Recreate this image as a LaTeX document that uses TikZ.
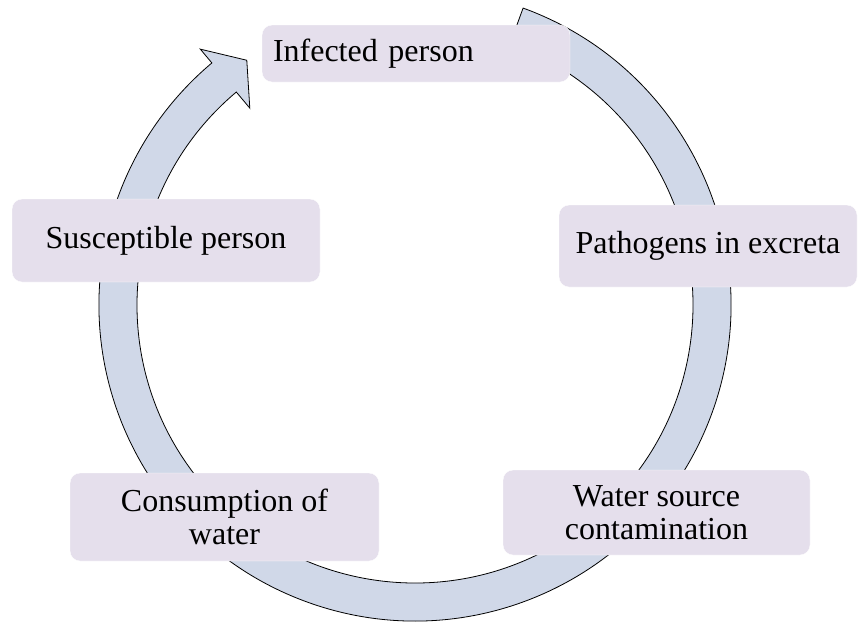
\documentclass[tikz,border=0pt]{standalone}
\usepackage{fontspec}
\setmainfont{Liberation Serif}
\definecolor{ringfill}{HTML}{D0D8E8}
\definecolor{boxfill}{HTML}{E5DFEC}

\begin{document}
\begin{tikzpicture}[x=1pt, y=1pt]
\tikzstyle{stage}=[rectangle, rounded corners=10pt, fill=boxfill, draw=white, inner sep=0pt, font=\fontsize{32}{33}\selectfont, align=center]
\tikzstyle{ring}=[draw=black, fill=ringfill, line width=0.8pt, line join=miter]
\useasboundingbox (0,0) rectangle (859,-625);
\coordinate (C) at (415,-305);
% circular arrow behind the boxes
\path[ring, shift={(C)}] (70:316) arc[start angle=70, end angle=-230, radius=316]
  -- (-230:334) -- (-235.5:297) -- (-230:257) -- (-230:278)
  arc[start angle=-230, end angle=70, radius=278] -- cycle;
\node[stage, minimum width=308pt, minimum height=57pt, text width=286pt, align=left] (Infected) at (416,-53.5) {Infected person};
\node[stage, minimum width=308pt, minimum height=83pt] (Susceptible) at (166,-240.5) {Susceptible person};
\node[stage, minimum width=298pt, minimum height=82pt] (Pathogens) at (708,-246) {Pathogens in excreta};
\node[stage, minimum width=309pt, minimum height=88pt] (Consumption) at (224.5,-517) {Consumption of\\water};
\node[stage, minimum width=307pt, minimum height=85pt] (Contamination) at (656.5,-512.5) {Water source\\contamination};
\end{tikzpicture}
\end{document}
